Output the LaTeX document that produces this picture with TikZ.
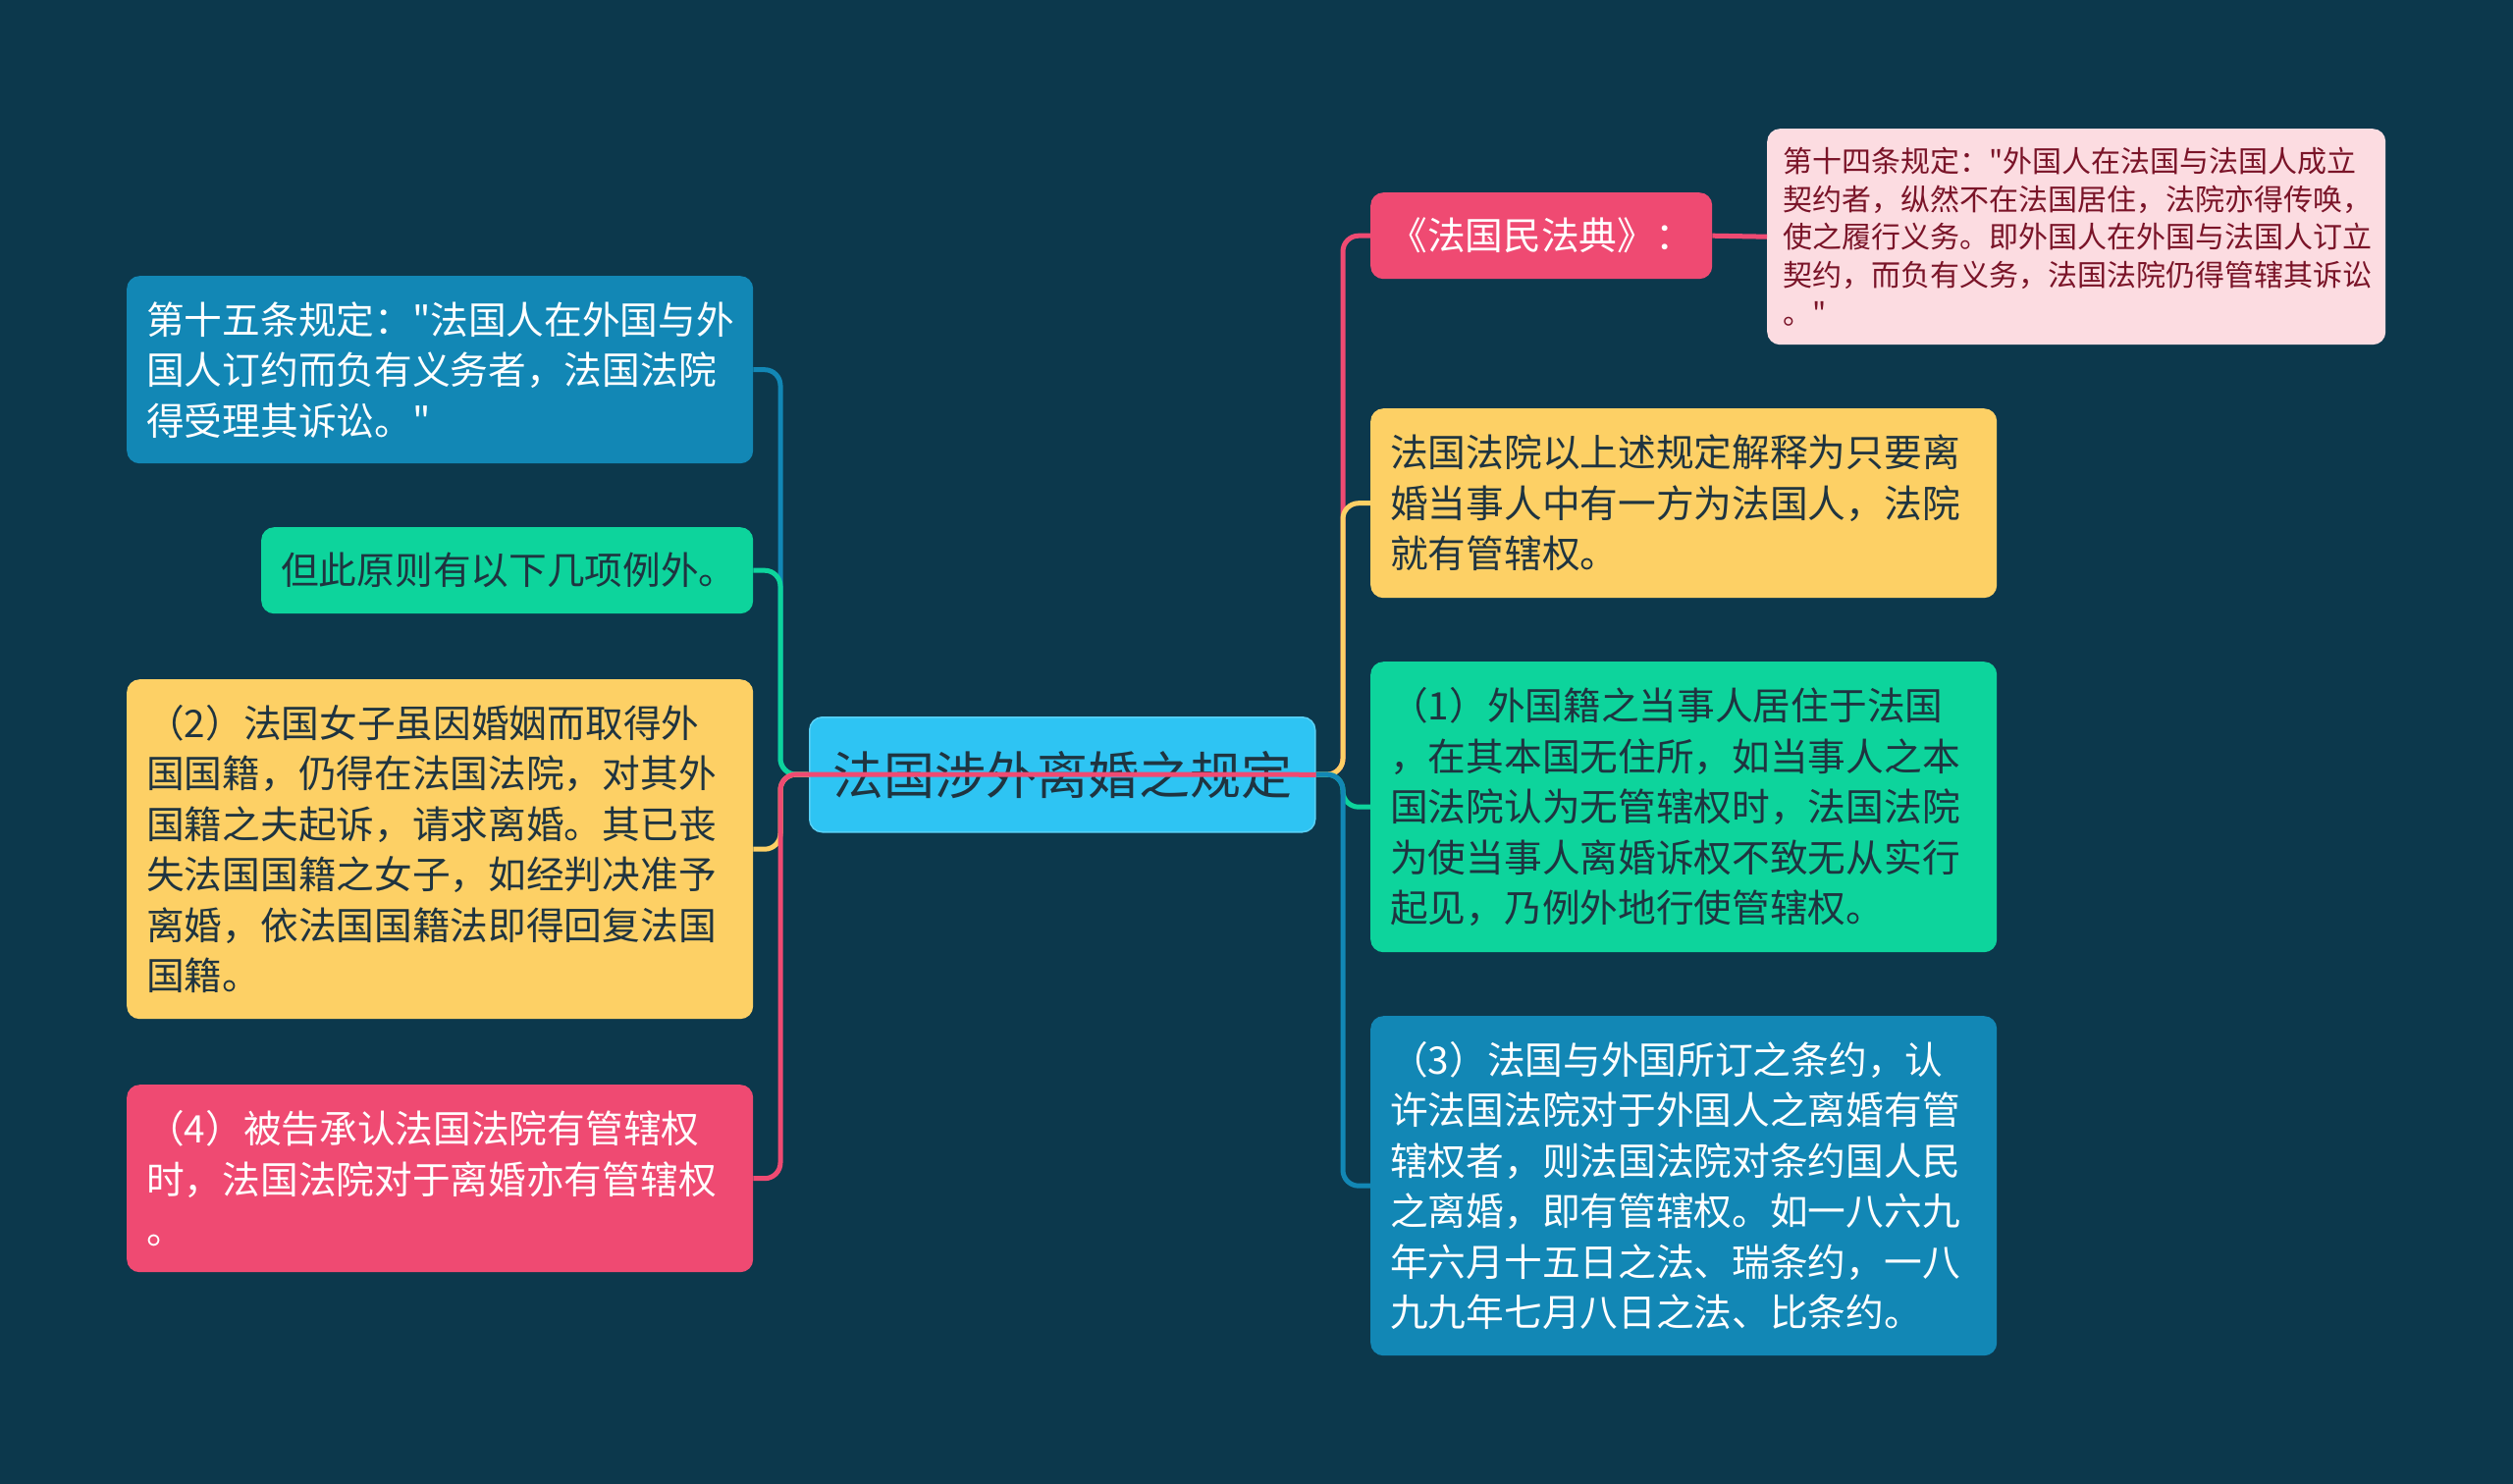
\documentclass[tikz,border=0pt]{standalone}
\usepackage{fontspec}
\newfontfamily\cjkfont{Noto Sans CJK SC}
\definecolor{bg}{HTML}{0C384C}
\definecolor{ccyan}{HTML}{2EC4F3}
\definecolor{cred}{HTML}{EF4A72}
\definecolor{clpink}{HTML}{FCDCE1}
\definecolor{cpinktext}{HTML}{7A1428}
\definecolor{cyel}{HTML}{FDD065}
\definecolor{cgreen}{HTML}{0DD49C}
\definecolor{cblue}{HTML}{1287B5}
\definecolor{cdark}{HTML}{1F3440}
\begin{document}
\begin{tikzpicture}[x=1pt,y=-1pt,
  box/.style={rounded corners=13pt, anchor=north west, inner xsep=20pt, inner ysep=0pt,
    align=left, font=\cjkfont\fontsize{38.7}{51.5}\selectfont},
  conn/.style={line width=5pt, rounded corners=16pt}]
\fill[bg] (0,0) rectangle (2560,1512);
\useasboundingbox (0,0) rectangle (2560,1512);
\coordinate (sL) at (795,789);
\coordinate (sR) at (1368,789);
% centre
\node[box, fill=ccyan, draw=ccyan!80!white, line width=1.5pt, text=cdark, minimum width=515pt, minimum height=117pt,
  text width=475pt, align=center, font=\cjkfont\fontsize{52}{60}\selectfont] (c) at (824,730) {法国涉外离婚之规定};
% right side
\node[box, fill=cred, text=white, minimum width=348pt, minimum height=88pt, text width=312pt,
  inner xsep=18pt, align=center] (fd) at (1396,196) {《法国民法典》：};
\node[box, fill=clpink, text=cpinktext, minimum width=630pt, minimum height=220pt, text width=598pt,
  inner xsep=16pt, font=\cjkfont\fontsize{30}{38.7}\selectfont] (pn) at (1800,131)
  {第十四条规定："外国人在法国与法国人成立\\契约者，纵然不在法国居住，法院亦得传唤，\\使之履行义务。即外国人在外国与法国人订立\\契约，而负有义务，法国法院仍得管辖其诉讼\\。"};
\node[box, fill=cyel, text=cdark, minimum width=638pt, minimum height=193pt, text width=598pt] (yr) at (1396,416)
  {法国法院以上述规定解释为只要离\\婚当事人中有一方为法国人，法院\\就有管辖权。};
\node[box, fill=cgreen, text=cdark, minimum width=638pt, minimum height=296pt, text width=598pt] (gr) at (1396,674)
  {（1）外国籍之当事人居住于法国\\，在其本国无住所，如当事人之本\\国法院认为无管辖权时，法国法院\\为使当事人离婚诉权不致无从实行\\起见，乃例外地行使管辖权。};
\node[box, fill=cblue, text=white, minimum width=638pt, minimum height=346pt, text width=598pt] (br) at (1396,1035)
  {（3）法国与外国所订之条约，认\\许法国法院对于外国人之离婚有管\\辖权者，则法国法院对条约国人民\\之离婚，即有管辖权。如一八六九\\年六月十五日之法、瑞条约，一八\\九九年七月八日之法、比条约。};
% left side
\node[box, fill=cblue, text=white, minimum width=638pt, minimum height=191pt, text width=598pt] (bl) at (129,281)
  {第十五条规定："法国人在外国与外\\国人订约而负有义务者，法国法院\\得受理其诉讼。"};
\node[box, fill=cgreen, text=cdark, minimum width=501pt, minimum height=88pt, text width=461pt, align=center] (gl) at (266,537)
  {但此原则有以下几项例外。};
\node[box, fill=cyel, text=cdark, minimum width=638pt, minimum height=346pt, text width=598pt] (yl) at (129,692)
  {（2）法国女子虽因婚姻而取得外\\国国籍，仍得在法国法院，对其外\\国籍之夫起诉，请求离婚。其已丧\\失法国国籍之女子，如经判决准予\\离婚，依法国国籍法即得回复法国\\国籍。};
\node[box, fill=cred, text=white, minimum width=638pt, minimum height=191pt, text width=598pt] (pl) at (129,1105)
  {（4）被告承认法国法院有管辖权\\时，法国法院对于离婚亦有管辖权\\。};
% connectors right
\draw[conn, cred] (c.east) -- (sR) -- (sR |- fd.west) -- (fd.west);
\draw[conn, cred] (fd.east) -- (pn.west);
\draw[conn, cyel] (c.east) -- (sR) -- (sR |- yr.west) -- (yr.west);
\draw[conn, cgreen] (c.east) -- (sR) -- (sR |- gr.west) -- (gr.west);
\draw[conn, cblue] (c.east) -- (sR) -- (sR |- br.west) -- (br.west);
% connectors left
\draw[conn, cblue] (bl.east) -- (bl.east -| sL) -- (sL) -- (c.west);
\draw[conn, cgreen] (gl.east) -- (gl.east -| sL) -- (sL) -- (c.west);
\draw[conn, cyel] (yl.east) -- (yl.east -| sL) -- (sL) -- (c.west);
\draw[conn, cred] (pl.east) -- (pl.east -| sL) -- (sL) -- (c.east);
\end{tikzpicture}
\end{document}
